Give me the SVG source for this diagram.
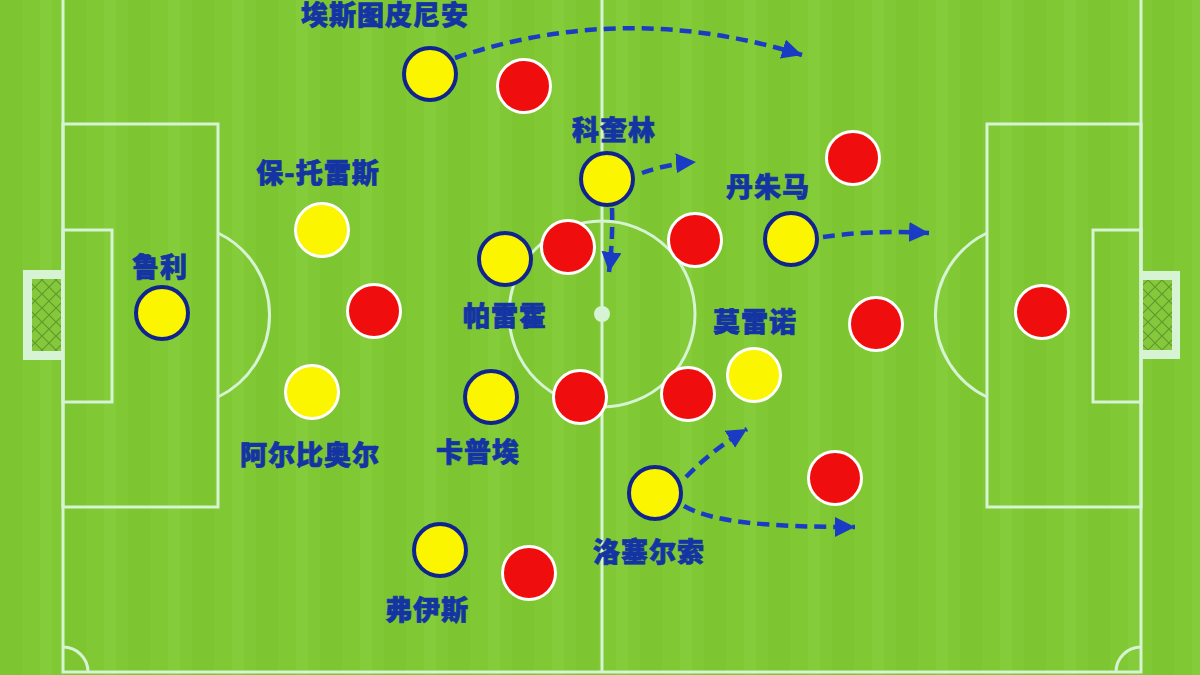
<svg xmlns="http://www.w3.org/2000/svg" width="1200" height="675" viewBox="0 0 1200 675">
<defs>
<style>
.ln{fill:none;stroke:#d6f3d4;stroke-width:3}
.ya{fill:#fbf500;stroke:#10248f;stroke-width:4}
.yb{fill:#fbf500;stroke:#ffffff;stroke-width:3}
.rd{fill:#ef0d0d;stroke:#ffffff;stroke-width:3}
.lb{font-family:"Noto Sans CJK SC","Noto Sans",sans-serif;font-weight:900;font-size:27px;fill:#1434a3;stroke:#1434a3;stroke-width:0.7px;text-anchor:middle;letter-spacing:1px}
.ar{fill:none;stroke:#1a3cc4;stroke-width:4.5;stroke-dasharray:12 7;marker-end:url(#ah)}
</style>
<pattern id="stripes" x="0" y="0" width="64" height="675" patternUnits="userSpaceOnUse">
<rect x="0" y="0" width="64" height="675" fill="#80c934"/>
<rect x="0" y="0" width="22" height="675" fill="#7dc631"/>
<rect x="40" y="0" width="12" height="675" fill="#84cc39"/>
</pattern>
<pattern id="netp" x="0" y="0" width="14" height="14" patternUnits="userSpaceOnUse">
<rect width="14" height="14" fill="#86c83c"/>
<path d="M0,0 L14,14 M14,0 L0,14" stroke="#5e9a2a" stroke-width="1.2"/>
</pattern>
<marker id="ah" markerUnits="userSpaceOnUse" markerWidth="24" markerHeight="22" refX="20" refY="10" orient="auto">
<path d="M0,0 L20,10 L0,20 z" fill="#1a3cc4"/>
</marker>
</defs>

<g id="pitch">
<rect x="0" y="0" width="1200" height="675" fill="#80c934"/>
<rect x="0" y="0" width="1200" height="675" fill="url(#stripes)"/>
<rect class="ln" x="63" y="-10" width="1078" height="682"/>
<line class="ln" x1="602" y1="0" x2="602" y2="672"/>
<circle class="ln" cx="602" cy="314" r="93"/>
<circle cx="602" cy="314" r="8" fill="#d6f3d4"/>
<rect class="ln" x="63" y="124" width="155" height="383"/>
<rect class="ln" x="63" y="230" width="49" height="172"/>
<path class="ln" d="M218,233 A91,91 0 0 1 218,397"/>
<rect class="ln" x="987" y="124" width="154" height="383"/>
<rect class="ln" x="1093" y="230" width="48" height="172"/>
<path class="ln" d="M987,233 A91,91 0 0 0 987,397"/>
<path class="ln" d="M63,647 A25,25 0 0 1 88,672"/>
<path class="ln" d="M1141,647 A25,25 0 0 0 1116,672"/>
<rect x="23" y="270" width="40" height="90" fill="#d6f3d4"/>
<rect x="32" y="279" width="29" height="72" fill="url(#netp)"/>
<rect x="1141" y="271" width="39" height="88" fill="#d6f3d4"/>
<rect x="1143" y="280" width="29" height="70" fill="url(#netp)"/>
</g>

<g id="connectors">
<path class="ar" d="M455,58 Q625,0 802,55"/>
<path class="ar" d="M642,173 Q666,164 696,162"/>
<path class="ar" d="M612,208 Q613,240 609,272"/>
<path class="ar" d="M823,237 Q870,230 929,233"/>
<path class="ar" d="M686,477 Q712,450 747,429"/>
<path class="ar" d="M684,506 C712,522 765,527 855,527"/>
</g>

<g id="estupinan"><circle class="ya" cx="430" cy="74" r="26"/><text class="lb" x="385" y="25">埃斯图皮尼安</text></g>
<g id="coquelin"><circle class="ya" cx="607" cy="179" r="26"/><text class="lb" x="614" y="140">科奎林</text></g>
<g id="pau-torres"><circle class="yb" cx="322" cy="230" r="26.5"/><text class="lb" x="318" y="183">保-托雷斯</text></g>
<g id="danjuma"><circle class="ya" cx="791" cy="239" r="26"/><text class="lb" x="768" y="197">丹朱马</text></g>
<g id="rulli"><circle class="ya" cx="162" cy="313" r="26"/><text class="lb" x="160" y="277">鲁利</text></g>
<g id="parejo"><circle class="ya" cx="505" cy="259" r="26"/><text class="lb" x="505" y="326">帕雷霍</text></g>
<g id="moreno"><circle class="yb" cx="754" cy="375" r="26.5"/><text class="lb" x="755" y="332">莫雷诺</text></g>
<g id="albiol"><circle class="yb" cx="312" cy="392" r="26.5"/><text class="lb" x="310" y="465">阿尔比奥尔</text></g>
<g id="capoue"><circle class="ya" cx="491" cy="397" r="26"/><text class="lb" x="478" y="462">卡普埃</text></g>
<g id="lo-celso"><circle class="ya" cx="655" cy="493" r="26"/><text class="lb" x="649" y="562">洛塞尔索</text></g>
<g id="foyth"><circle class="ya" cx="440" cy="550" r="26"/><text class="lb" x="427" y="620">弗伊斯</text></g>

<g id="opp1"><circle class="rd" cx="524" cy="86" r="26.5"/></g>
<g id="opp2"><circle class="rd" cx="853" cy="158" r="26.5"/></g>
<g id="opp3"><circle class="rd" cx="568" cy="247" r="26.5"/></g>
<g id="opp4"><circle class="rd" cx="695" cy="240" r="26.5"/></g>
<g id="opp5"><circle class="rd" cx="374" cy="311" r="26.5"/></g>
<g id="opp6"><circle class="rd" cx="876" cy="324" r="26.5"/></g>
<g id="opp7"><circle class="rd" cx="1042" cy="312" r="26.5"/></g>
<g id="opp8"><circle class="rd" cx="580" cy="397" r="26.5"/></g>
<g id="opp9"><circle class="rd" cx="688" cy="394" r="26.5"/></g>
<g id="opp10"><circle class="rd" cx="835" cy="478" r="26.5"/></g>
<g id="opp11"><circle class="rd" cx="529" cy="573" r="26.5"/></g>
</svg>
